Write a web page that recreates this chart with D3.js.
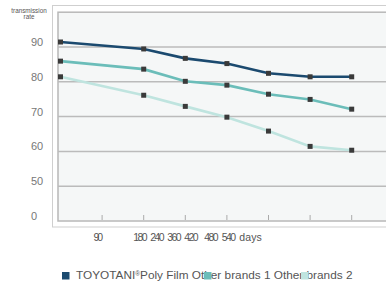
<!DOCTYPE html>
<html>
<head>
<meta charset="utf-8">
<script src="https://cdnjs.cloudflare.com/ajax/libs/d3/7.8.5/d3.min.js"></script>
<style>
	body { margin: 0; background: #fff; }
	svg { display: block; font-family: "Liberation Sans", Arial, sans-serif; }
</style>
</head>
<body>
<svg id="plot" width="386" height="283"></svg>
<script>
	// data
	var slots = [0, 2, 3, 4, 5, 6, 7];          // x slot of each measurement
	var tickSlots = [1, 2, 3, 4, 5, 6, 7];
	var toyotani = [90, 88, 85.3, 83.8, 81, 80, 80];
	var brands1 = [84.5, 82.2, 78.7, 77.6, 75, 73.5, 70.7];
	var brands2 = [80, 74.7, 71.5, 68.4, 64.4, 60, 58.9];
	var yTicks = [90, 80, 70, 60, 50, 40];
	var yTickLabels = ["90", "80", "70", "60", "50", "0"];
	var xLabels = ["90", "180", "240", "360", "420", "480", "540", "days"];
	var seriesNames = ["TOYOTANI", "Poly Film", "Other brands 1", "Other brands 2"];
	var colors = ["#1b4a6f", "#6bbdb9", "#bfe4df"];

	var svg = d3.select("#plot");
	var W = 386;

	var x = d3.scaleLinear().domain([0, 7]).range([60.5, 351.7]);
	var y = d3.scaleLinear().domain([40, 100]).range([216, 7.2]);
	var gridShift = 5;

	// outer + inner frame
	svg.append("rect")
		.attr("x", 52.5).attr("y", 5.5)
		.attr("width", W).attr("height", y(40) + gridShift + 6 - 5.5)
		.attr("fill", "#fff").attr("stroke", "#cfcfcf");
	svg.append("rect")
		.attr("x", 58).attr("y", y(100) + gridShift)
		.attr("width", W).attr("height", y(40) - y(100))
		.attr("fill", "#f5f7f7").attr("stroke", "#b8b8b8").attr("stroke-width", 1.5);

	// grid lines
	svg.selectAll(".grid").data(yTicks.slice(0, 5)).enter()
		.append("line")
		.attr("x1", 58).attr("x2", W)
		.attr("y1", function(d){ return y(d) + gridShift; })
		.attr("y2", function(d){ return y(d) + gridShift; })
		.style("stroke", "#bbb").style("stroke-width", 1.5);

	// x tick marks
	svg.selectAll(".tick").data(tickSlots).enter()
		.append("line")
		.attr("x1", function(d){ return x(d); })
		.attr("x2", function(d){ return x(d); })
		.attr("y1", y(40) + gridShift - 1)
		.attr("y2", y(40) + gridShift - 6)
		.style("stroke", "#aaa").style("stroke-width", 1);

	// y labels
	svg.selectAll(".ylab").data(yTicks).enter()
		.append("text")
		.attr("x", 31)
		.attr("y", function(d){ return y(d); })
		.attr("dy", "0.36em")
		.attr("font-size", 11)
		.attr("fill", "#777")
		.text(function(d, i){ return yTickLabels[i]; });

	// axis title
	svg.append("text").attr("x", 29).attr("y", 13).attr("text-anchor", "middle")
		.attr("font-size", 6.3).attr("fill", "#555").text("transmission");
	svg.append("text").attr("x", 29).attr("y", 19).attr("text-anchor", "middle")
		.attr("font-size", 6.3).attr("fill", "#555").text("rate");

	// x labels (laid out as a text run, not on the ticks)
	var xLabelCenters = [98.3, 140.5, 157.5, 174.5, 191.5, 211.5, 229, 250.5];
	svg.selectAll(".xlab").data(xLabels).enter()
		.append("text")
		.attr("x", function(d, i){ return xLabelCenters[i]; })
		.attr("y", 241)
		.attr("text-anchor", "middle")
		.attr("font-size", 10.5)
		.attr("textLength", function(d){ return d === "days" ? 22.5 : (d.length * 4.8); })
		.attr("fill", "#555")
		.text(function(d){ return d; });

	// lines and markers
	var line = d3.line()
		.x(function(d, i){ return x(slots[i]); })
		.y(function(d){ return y(d); });

	[toyotani, brands1, brands2].forEach(function(s, k){
		svg.append("path").datum(s)
			.attr("d", line)
			.attr("fill", "none")
			.attr("stroke", colors[k])
			.attr("stroke-width", 2.6);
	});
	[toyotani, brands1, brands2].forEach(function(s){
		svg.selectAll(null).data(s).enter()
			.append("rect")
			.attr("x", function(d, i){ return x(slots[i]) - 2.5; })
			.attr("y", function(d){ return y(d) - 2.5; })
			.attr("width", 5).attr("height", 5)
			.attr("fill", "#3a3a3a");
	});

	// legend: one text run with squares laid over it
	var leg = svg.append("text").attr("x", 76).attr("y", 279)
		.attr("font-size", 11.8).attr("fill", "#555");
	leg.append("tspan").text(seriesNames[0]);
	leg.append("tspan").attr("font-size", 6.5).attr("dy", -3).text("®");
	leg.append("tspan").attr("dy", 3).text(seriesNames[1] + " " + seriesNames[2] + " " + seriesNames[3]);

	var legendSquares = [62, 204, 301];
	svg.selectAll(".lsq").data(colors).enter()
		.append("rect")
		.attr("x", function(d, i){ return legendSquares[i]; })
		.attr("y", 272)
		.attr("width", 7.5).attr("height", 7.5)
		.attr("fill", function(d){ return d; });
</script>
</body>
</html>
